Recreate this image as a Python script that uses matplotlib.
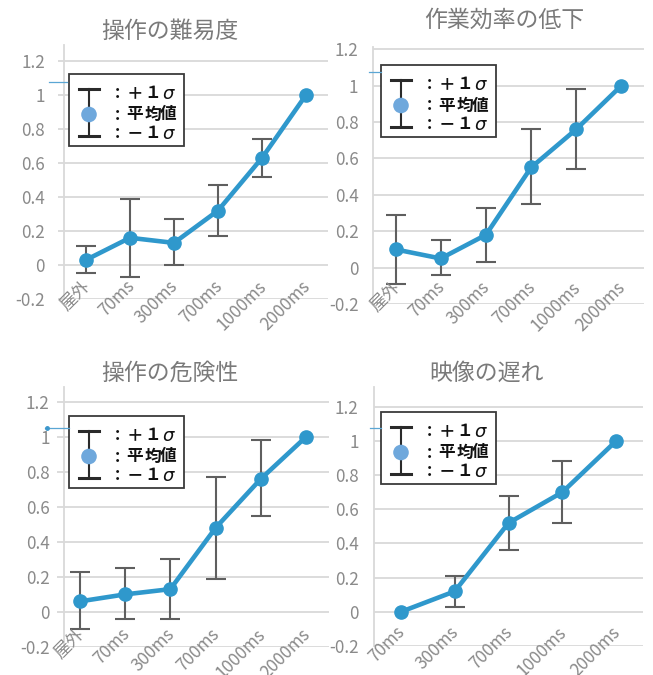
import numpy as np
import matplotlib.pyplot as plt
from matplotlib import transforms
from matplotlib.patches import Rectangle, Circle

plt.rcParams['font.family'] = ['Noto Sans CJK JP', 'DejaVu Sans']

# ----------------------------------------------------------
# data
# ----------------------------------------------------------
cats_a = ["屋外", "70ms", "300ms", "700ms", "1000ms", "2000ms"]
cats_b = ["70ms", "300ms", "700ms", "1000ms", "2000ms"]

title_1 = "操作の難易度"
mean_1 = [0.03, 0.16, 0.13, 0.32, 0.63, 1.0]
upper_1 = [0.11, 0.39, 0.27, 0.47, 0.74, 1.0]
lower_1 = [-0.05, -0.07, 0.00, 0.17, 0.52, 1.0]

title_2 = "作業効率の低下"
mean_2 = [0.10, 0.05, 0.18, 0.55, 0.76, 1.0]
upper_2 = [0.29, 0.15, 0.33, 0.76, 0.98, 1.0]
lower_2 = [-0.09, -0.04, 0.03, 0.35, 0.54, 1.0]

title_3 = "操作の危険性"
mean_3 = [0.06, 0.10, 0.13, 0.48, 0.76, 1.0]
upper_3 = [0.23, 0.25, 0.30, 0.77, 0.98, 1.0]
lower_3 = [-0.10, -0.04, -0.04, 0.19, 0.55, 1.0]

title_4 = "映像の遅れ"
mean_4 = [0.0, 0.12, 0.52, 0.70, 1.0]
upper_4 = [0.0, 0.21, 0.68, 0.88, 1.0]
lower_4 = [0.0, 0.03, 0.36, 0.52, 1.0]

yticks = [-0.2, 0, 0.2, 0.4, 0.6, 0.8, 1, 1.2]
ytick_labels = ["-0.2", "0", "0.2", "0.4", "0.6", "0.8", "1", "1.2"]

key_labels = ["＋１σ", "平均値", "－１σ"]

# ----------------------------------------------------------
# style / layout (pixels)
# ----------------------------------------------------------
W, H = 653, 675
LINE_C = "#2f98cc"
ERR_C = "#5f5f5f"
GRID_C = "#d9d9d9"
TICK_C = "#8a8a8a"
TITLE_C = "#7a7a7a"
TICK_FS = 12.3

fig = plt.figure(figsize=(W / 100, H / 100), dpi=100)

# overlay axes in pixel coordinates for titles / keys
ov = fig.add_axes([0, 0, 1, 1], zorder=10)
ov.set_xlim(0, W)
ov.set_ylim(H, 0)
ov.axis("off")


def px_rect(l, t, r, b):
    return [l / W, 1 - b / H, (r - l) / W, (b - t) / H]


def draw_panel(box, ytop, cats, mean, upper, lower, title, title_xy,
               ypad, spine_off=0.0, tick_len=0.0, lab_dy=16):
    ax = fig.add_axes(px_rect(*box))
    x = np.arange(len(cats))
    mean = np.array(mean)
    lo = np.array(lower)
    hi = np.array(upper)
    has_err = (hi - lo) > 0
    yerr = [(mean - lo)[has_err], (hi - mean)[has_err]]

    ax.errorbar(x[has_err], mean[has_err], yerr=yerr, fmt="none", ecolor=ERR_C,
                elinewidth=1.5, capsize=7.5, capthick=1.5, zorder=2)
    ax.plot(x, mean, color=LINE_C, lw=3.3, marker="o", ms=9.5, zorder=3)

    ax.set_xlim(-0.5, len(cats) - 0.5)
    ax.set_ylim(-0.2, ytop)
    ax.set_yticks(yticks)
    ax.set_yticklabels(ytick_labels)
    ax.set_xticks([])
    ax.grid(axis="y", color=GRID_C, lw=1.3, zorder=0)
    ax.tick_params(axis="y", length=tick_len, width=1.3, color=GRID_C,
                   pad=ypad, labelsize=TICK_FS, labelcolor=TICK_C)
    for s in ["top", "right", "bottom"]:
        ax.spines[s].set_visible(False)
    ax.spines["left"].set_color(GRID_C)
    ax.spines["left"].set_linewidth(1.3)
    ax.spines["left"].set_position(("axes", spine_off))
    ax.patch.set_alpha(0)

    base = transforms.blended_transform_factory(ax.transData, ax.transAxes)
    trans = transforms.offset_copy(base, fig=fig, x=-5, y=lab_dy, units="dots")
    for i, c in enumerate(cats):
        ax.text(i, 0, c, transform=trans, rotation=45, rotation_mode="anchor",
                ha="right", va="top", fontsize=TICK_FS, color=TICK_C)

    ov.text(title_xy[0], title_xy[1], title, ha="center", va="center",
            fontsize=16.5, color=TITLE_C)
    return ax


def draw_key(x0, y0, w=115, h=72):
    ov.add_patch(Rectangle((x0, y0), w, h, facecolor="white",
                           edgecolor="#3a3a3a", lw=1.3))
    cx = x0 + 20
    ov.plot([cx, cx], [y0 + 15, y0 + 62], color="#2a2a2a", lw=1.5)
    ov.plot([cx - 10, cx + 10], [y0 + 15, y0 + 15], color="#2a2a2a", lw=2.2)
    ov.plot([cx - 10, cx + 10], [y0 + 62, y0 + 62], color="#2a2a2a", lw=2.2)
    ov.add_patch(Circle((cx, y0 + 40.5), 7.8, facecolor="#6fa8dc",
                        edgecolor="none", zorder=3))
    for lab, dy in zip(key_labels, [19, 40.5, 59]):
        ov.text(x0 + 48, y0 + dy, ":", ha="center", va="center",
                fontsize=12, fontweight="bold", color="#111111")
        for ch, dx in zip(lab, [66, 83.5, 99.5]):
            if ch == "σ":
                ov.text(x0 + dx, y0 + dy + 1, ch, ha="center", va="center",
                        fontsize=13, style="oblique",
                        family="DejaVu Sans", color="#111111")
            else:
                ov.text(x0 + dx, y0 + dy, ch, ha="center", va="center",
                        fontsize=12, fontweight="bold", color="#111111")


draw_panel((64, 45, 328, 299), 1.294, cats_a, mean_1, upper_1, lower_1,
           title_1, (170, 31), ypad=9.4, tick_len=4.3, lab_dy=22)
draw_panel((373, 47, 644, 304), 1.212, cats_a, mean_2, upper_2, lower_2,
           title_2, (504, 20), ypad=10.5, lab_dy=26)
draw_panel((57, 387, 329, 647), 1.283, cats_a, mean_3, upper_3, lower_3,
           title_3, (170, 373), ypad=10.3, spine_off=7 / 272, lab_dy=22)
draw_panel((374, 387, 643, 646), 1.316, cats_b, mean_4, upper_4, lower_4,
           title_4, (486, 373), ypad=11, lab_dy=23)

# small stray connector lines left of the keys
for (xa, xb, yy) in [(49, 67, 82), (369, 381, 72), (45, 69, 428), (370, 381, 428)]:
    ov.plot([xa, xb], [yy, yy], color="#5aa6d4", lw=0.9)
ov.plot([46.5], [428], marker="o", ms=2.5, color="#3d97cc")

draw_key(69, 74)
draw_key(381, 65)
draw_key(69, 416)
draw_key(381, 412)

fig.savefig("out.png", dpi=100, facecolor="white")
